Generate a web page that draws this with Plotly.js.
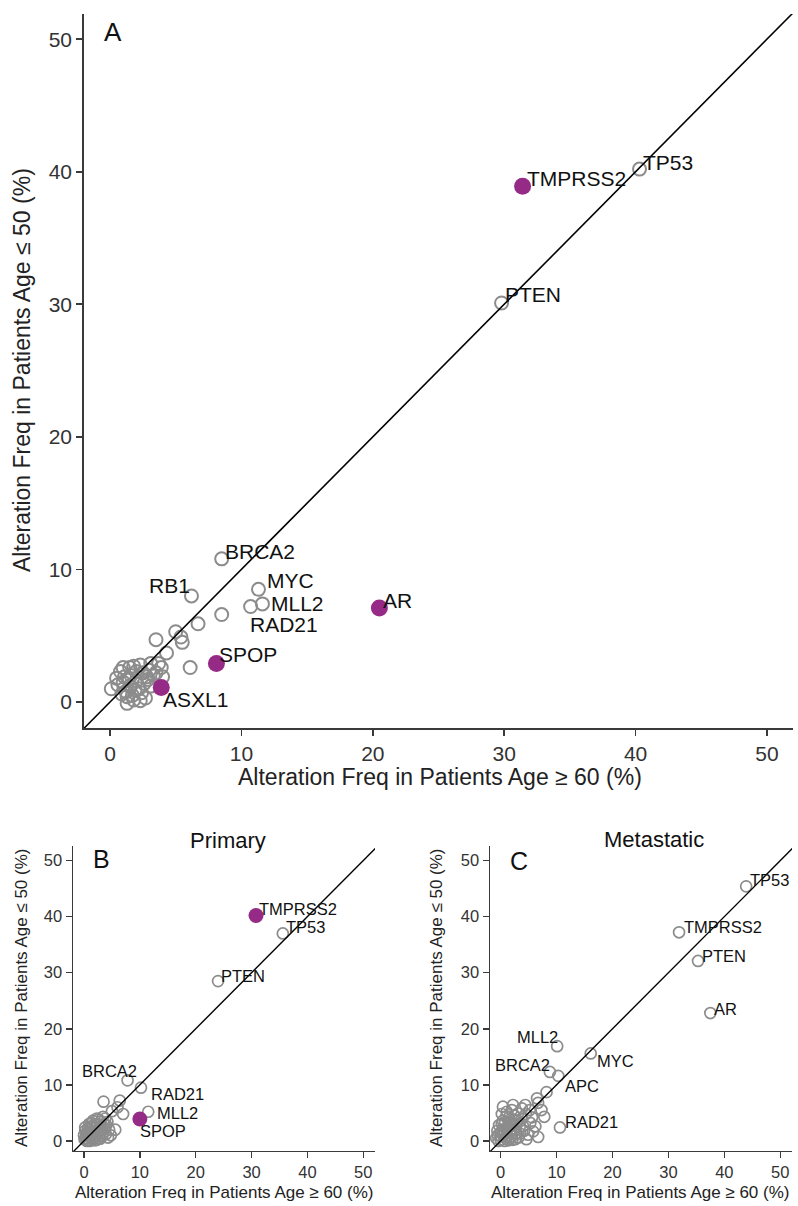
<!DOCTYPE html>
<html>
<head>
<meta charset="utf-8">
<script src="https://cdn.plot.ly/plotly-3.0.1.min.js"></script>
<style>html,body{margin:0;padding:0;background:#fff;}#chart{width:798px;height:1206px;}</style>
</head>
<body>
<div id="chart"></div>
<script>
// ---------- DATA ----------
// Panel A (all patients): labelled genes
const aGenes = ["TP53", "TMPRSS2", "PTEN", "BRCA2", "RB1", "MYC", "MLL2", "RAD21", "AR", "SPOP", "ASXL1"];
const aX = [40.3, 31.4, 29.8, 8.5, 6.2, 11.3, 11.6, 10.7, 20.5, 8.1, 3.9];
const aY = [40.2, 38.9, 30.1, 10.8, 8.0, 8.5, 7.4, 7.2, 7.1, 2.9, 1.1];
const aSig = [0, 1, 0, 0, 0, 0, 0, 0, 1, 1, 1];
// Panel A: other genes
const aOtherX = [8.5, 6.7, 5.0, 5.4, 5.5, 3.5, 4.3, 6.1, 3.7, 0.1, 0.5, 0.8, 1.8, 2.3, 3.1, 3.9, 2.8, 3.3, 1.3, 1.3, 1.8, 2.4, 3.1, 1.0, 1.5, 2.0, 2.5, 1.2, 1.6, 2.2, 0.9, 1.7, 2.6, 3.0, 1.4, 2.0, 1.1, 2.7, 1.5, 4.0, 0.6, 1.9, 2.9, 1.0, 2.3, 3.5];
const aOtherY = [6.6, 5.9, 5.3, 4.9, 4.5, 4.7, 3.7, 2.6, 2.9, 1.0, 1.8, 2.3, 2.7, 2.8, 2.9, 2.6, 1.9, 2.0, 0.4, -0.1, 0.15, 0.7, 1.2, 1.5, 1.2, 1.6, 2.2, 0.8, 2.0, 1.0, 0.6, 0.5, 1.4, 2.4, 1.7, 2.3, 1.9, 0.3, 2.6, 1.9, 1.3, 0.9, 1.7, 2.6, 0.1, 2.2];

// Panel B (Primary)
const bGenes = ["TMPRSS2", "TP53", "PTEN", "BRCA2", "RAD21", "MLL2", "SPOP"];
const bX = [30.8, 35.6, 24.0, 7.8, 10.2, 11.5, 10.0];
const bY = [40.2, 37.0, 28.5, 10.8, 9.5, 5.2, 3.9];
const bSig = [1, 0, 0, 0, 0, 0, 1];
const bOtherX = [3.5, 6.4, 6.0, 5.0, 7.0, 5.6, 0.0, 0.3, 0.5, 0.8, 1.0, 1.2, 1.5, 1.5, 1.8, 2.0, 2.2, 2.5, 2.8, 3.0, 3.2, 3.5, 3.8, 4.0, 4.3, 0.6, 1.0, 2.0, 2.6, 3.4, 1.3, 4.5, 2.3, 0.2, 1.7, 2.9,
  0.1, 0.4, 0.7, 1.1, 1.4, 1.9, 2.1, 2.4, 2.7, 3.1, 3.3, 3.6, 0.9, 1.6, 2.3, 0.2, 1.2, 2.9, 3.9, 4.2, 0.5, 1.8, 2.6, 3.7, 4.8];
const bOtherY = [7.0, 7.2, 6.0, 5.3, 4.8, 2.0, 1.0, 0.5, 1.5, 0.8, 2.0, 1.2, 0.3, 2.5, 1.6, 0.8, 3.0, 2.0, 1.0, 3.5, 2.4, 1.5, 4.0, 2.8, 0.6, 0.2, 0.0, 2.5, 3.8, 4.3, 3.2, 2.0, 0.2, 1.8, 1.1, 0.4,
  0.3, 1.2, 2.2, 0.6, 1.8, 0.1, 1.3, 2.8, 0.5, 1.9, 0.9, 3.0, 3.0, 3.6, 4.0, 2.4, 2.6, 2.2, 1.2, 3.4, 0.0, 0.5, 1.6, 2.2, 1.0];

// Panel C (Metastatic)
const cGenes = ["TP53", "TMPRSS2", "PTEN", "AR", "MLL2", "MYC", "BRCA2", "APC", "RAD21"];
const cX = [43.9, 31.9, 35.3, 37.5, 10.1, 16.1, 8.8, 8.2, 10.6];
const cY = [45.4, 37.2, 32.1, 22.8, 16.9, 15.6, 12.3, 8.7, 2.4];
const cSig = [0, 0, 0, 0, 0, 0, 0, 0, 0];
const cOtherX = [10.3, 6.5, 6.7, 0.4, 2.2, 4.4, 1.1, 3.1, 5.2, 7.3, 6.7, 4.9, 1.7, 3.4, 5.3, -0.5, 0.0, 0.3, 0.6, 1.0, 1.3, 1.6, 2.0, 2.4, 2.8, 0.2, 0.8, 1.4, 2.2, 0.5, 1.1, 1.8, 2.6, 3.8, 4.2, 3.0, 0.0, 1.5, 2.5,
  -0.8, -0.6, -0.3, 0.1, 0.4, 0.7, 0.9, 1.2, 1.5, 1.9, 2.1, 2.3, 2.7, 3.2, 3.5, 4.0, 4.6, 5.8, 0.2, 1.0, 2.0, 3.8, 5.6, 6.2, -0.4, 0.6, 1.7, 2.9, 4.5, 7.8];
const cOtherY = [11.6, 7.6, 6.8, 6.1, 6.4, 6.4, 5.2, 4.9, 5.5, 5.5, 0.7, 1.1, 3.2, 2.5, 3.2, 1.0, 0.2, 2.0, 1.2, 0.4, 2.6, 1.5, 0.8, 2.2, 1.4, 3.0, 3.3, 0.1, 3.0, 0.9, 1.8, 2.8, 0.3, 4.0, 1.8, 3.6, 1.5, 4.2, 4.5,
  0.5, 1.8, 2.8, 0.8, 3.6, 0.0, 2.2, 0.7, 3.2, 1.9, 0.2, 3.8, 2.0, 0.6, 1.3, 2.6, 0.3, 1.7, 4.8, 4.4, 5.5, 5.8, 4.2, 2.6, 0.0, 1.6, 0.4, 3.0, 4.8, 4.3];

const tickVals = [0, 10, 20, 30, 40, 50];
const diag = [-2, 53];

// ---------- LABEL PLACEMENT (pixel offsets) ----------
const aLab = {
  TP53: [1, 7, "left"], TMPRSS2: [2, 8, "left"], PTEN: [1, 8, "left"], BRCA2: [1, 7, "left"],
  RB1: [1, 10, "right"], MYC: [7, 9, "left"], MLL2: [7, 0, "left"], RAD21: [-3, -18, "left"],
  AR: [2, 7, "left"], SPOP: [1, 9, "left"], ASXL1: [0, -12, "left"]
};
const bLab = {
  TMPRSS2: [1, 7, "left"], TP53: [1, 6, "left"], PTEN: [1, 5, "left"], BRCA2: [11, 9, "right"],
  RAD21: [8, -6, "left"], MLL2: [7, -1, "left"], SPOP: [-2, -12, "left"]
};
const cLab = {
  TP53: [2, 6, "left"], TMPRSS2: [3, 5, "left"], PTEN: [2, 5, "left"], AR: [2, 4, "left"],
  MLL2: [3, 9, "right"], MYC: [4, -8, "left"], BRCA2: [2, 7, "right"], APC: [16, 6, "left"],
  RAD21: [3, 5, "left"]
};

// ---------- STYLE ----------
const FONT = "Liberation Sans, Arial, Helvetica, sans-serif";
const GRAY = "#8c8c8c";
const PURPLE = "#962b87";

function panelTraces(genes, xs, ys, sig, ox, oy, xa, ya, openSize, openW, filledSize, lineW) {
  const tr = [];
  tr.push({x: ox, y: oy, xaxis: xa, yaxis: ya, type: "scatter", mode: "markers",
    marker: {symbol: "circle-open", size: openSize, color: GRAY, line: {width: openW, color: GRAY}},
    hoverinfo: "skip", showlegend: false});
  const gx = [], gy = [], px = [], py = [];
  for (let i = 0; i < genes.length; i++) {
    if (sig[i]) { px.push(xs[i]); py.push(ys[i]); } else { gx.push(xs[i]); gy.push(ys[i]); }
  }
  tr.push({x: gx, y: gy, xaxis: xa, yaxis: ya, type: "scatter", mode: "markers",
    marker: {symbol: "circle-open", size: openSize, color: GRAY, line: {width: openW, color: GRAY}},
    hoverinfo: "skip", showlegend: false});
  tr.push({x: diag, y: diag, xaxis: xa, yaxis: ya, type: "scatter", mode: "lines",
    line: {color: "#000", width: lineW}, hoverinfo: "skip", showlegend: false});
  tr.push({x: px, y: py, xaxis: xa, yaxis: ya, type: "scatter", mode: "markers",
    marker: {symbol: "circle", size: filledSize, color: PURPLE}, hoverinfo: "skip", showlegend: false});
  return tr;
}

function panelLabels(genes, xs, ys, lab, xa, ya, size) {
  return genes.map((g, i) => ({
    x: xs[i], y: ys[i], xref: xa, yref: ya, text: g, showarrow: false,
    xanchor: lab[g][2], yanchor: "middle", xshift: lab[g][0], yshift: lab[g][1],
    font: {family: FONT, size: size, color: "#111"}
  }));
}

const traces = [].concat(
  panelTraces(aGenes, aX, aY, aSig, aOtherX, aOtherY, "x", "y", 13, 2, 17, 1.6),
  panelTraces(bGenes, bX, bY, bSig, bOtherX, bOtherY, "x2", "y2", 11, 1.7, 15, 1.4),
  panelTraces(cGenes, cX, cY, cSig, cOtherX, cOtherY, "x3", "y3", 11, 1.7, 15, 1.4)
);

function axis(domain, range, anchor, fs, lw) {
  return {domain: domain, range: range, anchor: anchor, tickvals: tickVals,
    showline: true, linecolor: "#3a3a3a", linewidth: lw, ticks: "outside", ticklen: 6,
    tickwidth: lw, tickcolor: "#3a3a3a", showgrid: false, zeroline: false,
    tickfont: {family: FONT, size: fs, color: "#333"}, fixedrange: true};
}

const annotations = [].concat(
  panelLabels(aGenes, aX, aY, aLab, "x", "y", 21),
  panelLabels(bGenes, bX, bY, bLab, "x2", "y2", 16.5),
  panelLabels(cGenes, cX, cY, cLab, "x3", "y3", 16.5),
  [
    {text: "Alteration Freq in Patients Age \u2265 60 (%)", x: 0.5514, y: 0.3555, xref: "paper", yref: "paper", showarrow: false, xanchor: "center", yanchor: "middle", font: {family: FONT, size: 23, color: "#222"}},
    {text: "Alteration Freq in Patients Age \u2264 50 (%)", x: 0.0276, y: 0.6932, xref: "paper", yref: "paper", showarrow: false, textangle: -90, xanchor: "center", yanchor: "middle", font: {family: FONT, size: 23, color: "#222"}},
    {text: "Alteration Freq in Patients Age \u2265 60 (%)", x: 0.2807, y: 0.0108, xref: "paper", yref: "paper", showarrow: false, xanchor: "center", yanchor: "middle", font: {family: FONT, size: 17, color: "#222"}},
    {text: "Alteration Freq in Patients Age \u2264 50 (%)", x: 0.0276, y: 0.1725, xref: "paper", yref: "paper", showarrow: false, textangle: -90, xanchor: "center", yanchor: "middle", font: {family: FONT, size: 17, color: "#222"}},
    {text: "Alteration Freq in Patients Age \u2265 60 (%)", x: 0.802, y: 0.0108, xref: "paper", yref: "paper", showarrow: false, xanchor: "center", yanchor: "middle", font: {family: FONT, size: 17, color: "#222"}},
    {text: "Alteration Freq in Patients Age \u2264 50 (%)", x: 0.5476, y: 0.1725, xref: "paper", yref: "paper", showarrow: false, textangle: -90, xanchor: "center", yanchor: "middle", font: {family: FONT, size: 17, color: "#222"}},
    {text: "Primary", x: 0.2857, y: 0.3027, xref: "paper", yref: "paper", showarrow: false, xanchor: "center", yanchor: "middle", font: {family: FONT, size: 22, color: "#111"}},
    {text: "Metastatic", x: 0.8195, y: 0.3035, xref: "paper", yref: "paper", showarrow: false, xanchor: "center", yanchor: "middle", font: {family: FONT, size: 22, color: "#111"}},
    {text: "A", x: 0.1416, y: 0.9735, xref: "paper", yref: "paper", showarrow: false, xanchor: "center", yanchor: "middle", font: {family: FONT, size: 26, color: "#111"}},
    {text: "B", x: 0.1278, y: 0.2877, xref: "paper", yref: "paper", showarrow: false, xanchor: "center", yanchor: "middle", font: {family: FONT, size: 25, color: "#111"}},
    {text: "C", x: 0.6504, y: 0.2861, xref: "paper", yref: "paper", showarrow: false, xanchor: "center", yanchor: "middle", font: {family: FONT, size: 25, color: "#111"}}
  ]
);

const layout = {
  width: 798, height: 1206, margin: {l: 0, r: 0, t: 0, b: 0},
  paper_bgcolor: "#fff", plot_bgcolor: "#fff", showlegend: false,
  font: {family: FONT},
  xaxis: axis([0.10526, 0.99373], [-1.98, 51.98], "y", 21, 1.8),
  yaxis: axis([0.39635, 0.98839], [-1.96, 51.9], "x", 21, 1.8),
  xaxis2: axis([0.09148, 0.46992], [-1.97, 52.1], "y2", 16.5, 1.5),
  yaxis2: axis([0.04561, 0.29851], [-1.8, 52.6], "x2", 16.5, 1.5),
  xaxis3: axis([0.61404, 0.99248], [-1.91, 52.1], "y3", 16.5, 1.5),
  yaxis3: axis([0.04561, 0.29851], [-1.8, 52.6], "x3", 16.5, 1.5),
  annotations: annotations
};

Plotly.newPlot("chart", traces, layout, {staticPlot: true, displayModeBar: false});
</script>
</body>
</html>
